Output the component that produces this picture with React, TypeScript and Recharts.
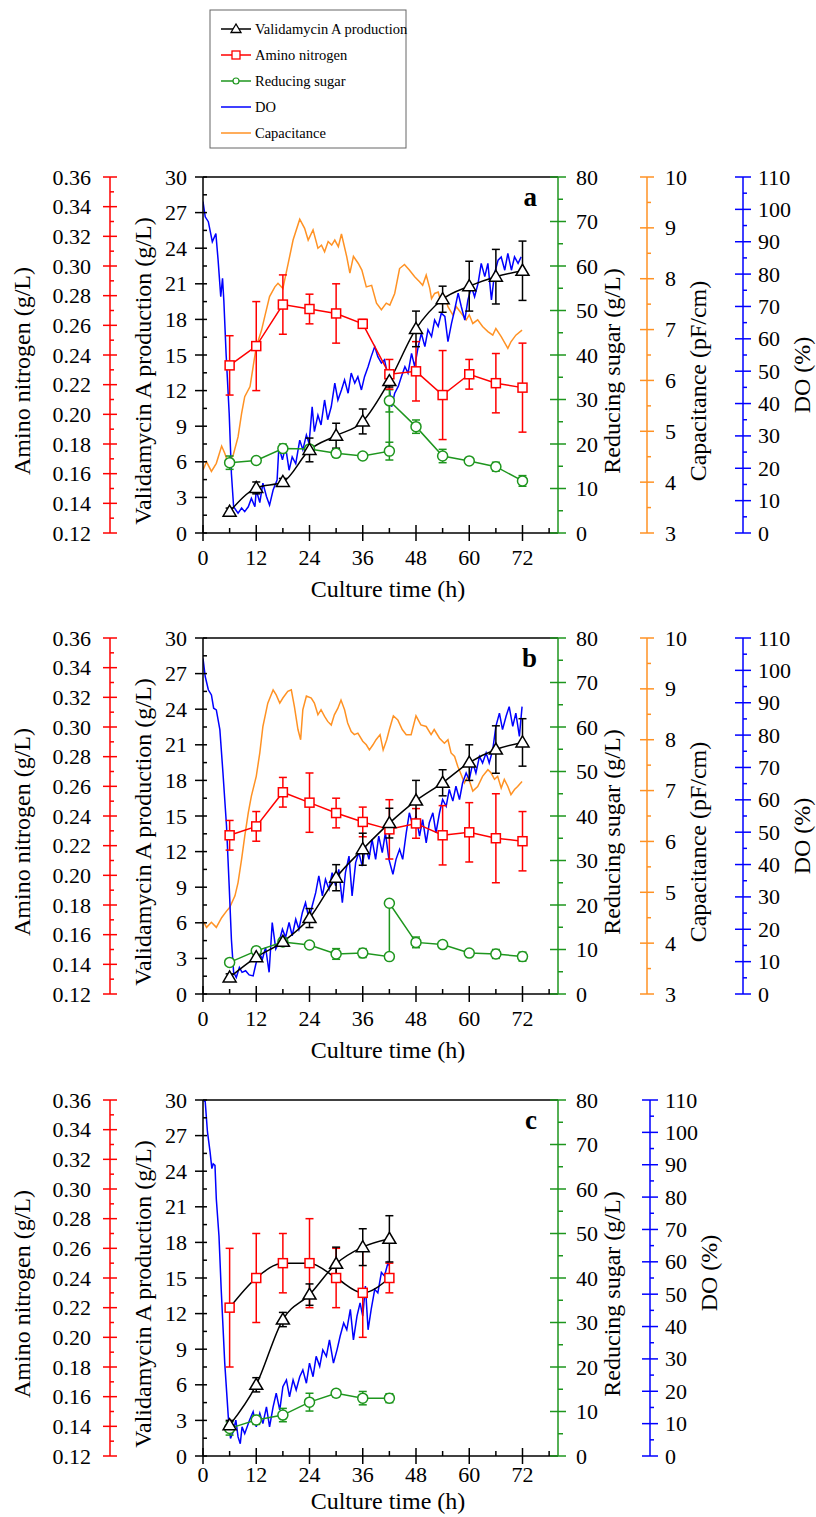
import React from 'react';
import { ComposedChart, Line, XAxis, YAxis, ErrorBar, ReferenceLine } from 'recharts';

const FONT = '"Liberation Serif", "Times New Roman", serif';
const BLACK = '#000000';
const RED = '#ff0000';
const GREEN = '#1e961e';
const ORANGE = '#ff9224';
const BLUE = '#0000ff';

// sampling times (h)
const sampleTimes = [6, 12, 18, 24, 30, 36, 42, 48, 54, 60, 66, 72];
const sampleTimesC = [6, 12, 18, 24, 30, 36, 42];
// sugar is fed at 42 h, so two readings there
const sugarTimes = [6, 12, 18, 24, 30, 36, 42, 42, 48, 54, 60, 66, 72];

// panel a
const vaA = [1.8, 3.8, 4.3, 7.0, 8.2, 9.4, 12.8, 17.2, 19.7, 20.8, 21.6, 22.1];
const vaErrA = [0.3, 0.5, 0.3, 1.0, 1.05, 1.05, 0.5, 1.5, 1.1, 2.1, 2.3, 2.5];
const anA = [0.233, 0.246, 0.274, 0.271, 0.268, 0.261, 0.227, 0.229, 0.213, 0.227, 0.221, 0.218];
const anErrA = [0.02, 0.03, 0.02, 0.01, 0.02, 0.003, 0.01, 0.02, 0.03, 0.01, 0.02, 0.03];
const rsA = [15.8, 16.3, 19.0, 18.9, 17.9, 17.3, 18.4, 29.7, 23.9, 17.3, 16.2, 14.9, 11.7];
const rsErrA = [1.5, 0.5, 1.0, 0.5, 0.8, 0.5, 2.0, 2.5, 1.5, 1.5, 0.5, 1.0, 1.2];
const capTimeA = [0, 0.8, 1.9, 3.0, 4.2, 4.9, 5.7, 6.8, 7.9, 8.7, 9.4, 10.6, 11.3, 12.0, 13.2, 13.9, 15.0, 16.2, 16.9, 18.0, 19.2, 20.3, 21.8, 22.9, 23.7, 24.8, 25.9, 26.7, 27.4, 28.2, 29.0, 29.7, 30.5, 31.2, 32.4, 33.1, 33.9, 35.0, 35.8, 36.8, 38.0, 39.1, 40.2, 41.3, 42.1, 43.2, 44.3, 45.4, 46.5, 47.7, 48.8, 49.5, 50.3, 51.1, 51.5, 52.2, 53.0, 53.7, 54.5, 55.2, 56.3, 57.1, 58.2, 59.3, 60.0, 60.8, 61.9, 63.0, 64.2, 65.3, 66.0, 67.2, 68.7, 69.4, 70.5, 71.9];
const capA = [4.24, 4.40, 4.21, 4.37, 4.71, 4.57, 4.37, 4.53, 4.89, 5.35, 5.68, 5.88, 6.27, 6.66, 6.99, 7.25, 7.65, 7.84, 7.91, 7.81, 8.30, 8.76, 9.17, 8.99, 8.76, 8.96, 8.60, 8.66, 8.53, 8.73, 8.66, 8.76, 8.63, 8.88, 8.43, 8.11, 8.44, 8.30, 8.17, 7.84, 7.87, 7.52, 7.39, 7.52, 7.48, 7.71, 8.20, 8.28, 8.17, 8.04, 7.94, 7.87, 8.07, 7.81, 7.61, 7.71, 7.74, 7.52, 7.65, 7.45, 7.29, 7.45, 7.32, 7.19, 7.29, 7.12, 7.19, 7.06, 6.96, 6.89, 7.02, 6.86, 6.63, 6.76, 6.89, 6.99];
const doTimeA = [0, 0.5, 1.2, 2.1, 2.9, 3.4, 4.0, 4.4, 4.7, 5.2, 5.9, 6.4, 6.9, 7.9, 8.7, 9.4, 10.2, 10.9, 11.7, 12.0, 12.8, 13.5, 14.3, 15.0, 15.8, 16.7, 17.1, 17.9, 18.6, 19.4, 20.1, 20.9, 21.8, 22.5, 23.3, 23.9, 24.6, 25.1, 25.9, 26.6, 27.4, 28.1, 28.9, 29.7, 30.4, 31.2, 31.9, 32.7, 33.4, 34.2, 34.9, 35.7, 36.4, 37.2, 37.9, 38.7, 39.4, 40.2, 40.9, 41.7, 42.5, 43.2, 44.0, 44.7, 45.5, 46.2, 47.0, 47.7, 48.5, 49.2, 50.0, 50.7, 51.5, 52.2, 53.0, 53.7, 54.5, 55.2, 56.0, 56.7, 57.5, 58.2, 59.0, 59.7, 60.5, 61.2, 62.0, 62.7, 63.5, 64.2, 65.0, 65.7, 66.5, 67.2, 68.0, 68.7, 69.5, 70.2, 71.0, 71.7];
const doA = [102.4, 97.7, 96.2, 90.0, 92.5, 84.4, 73.0, 78.7, 71.7, 55.5, 37.0, 18.4, 8.1, 6.1, 7.7, 6.6, 8.1, 10.7, 8.1, 13.3, 9.4, 15.4, 11.3, 8.6, 13.3, 16.4, 26.7, 22.6, 26.7, 19.4, 23.5, 21.4, 28.7, 25.7, 30.3, 27.7, 39.0, 31.3, 36.4, 33.4, 41.1, 35.0, 39.0, 46.3, 41.1, 44.2, 47.3, 43.2, 49.4, 46.3, 48.3, 44.2, 48.3, 51.4, 54.5, 57.6, 54.5, 52.5, 53.5, 48.3, 39.0, 43.2, 45.3, 48.3, 51.4, 49.4, 55.5, 51.4, 57.6, 61.7, 57.6, 62.8, 60.7, 65.8, 63.8, 67.9, 66.9, 59.1, 64.8, 68.9, 74.1, 70.0, 65.8, 72.0, 76.1, 73.0, 77.2, 83.3, 79.2, 83.3, 72.0, 80.2, 84.3, 85.3, 81.2, 86.4, 81.2, 85.3, 83.3, 85.3];

// panel b
const vaB = [1.4, 3.1, 4.4, 6.4, 9.8, 12.2, 14.4, 16.3, 17.8, 19.5, 20.6, 21.2];
const vaErrB = [0.3, 0.3, 0.3, 0.8, 1.1, 1.35, 1.25, 1.7, 1.1, 1.5, 2.0, 2.0];
const anB = [0.227, 0.233, 0.256, 0.249, 0.242, 0.236, 0.231, 0.235, 0.227, 0.229, 0.225, 0.223];
const anErrB = [0.01, 0.01, 0.01, 0.02, 0.01, 0.01, 0.02, 0.01, 0.02, 0.02, 0.03, 0.02];
const rsB = [7.1, 9.7, 11.7, 11.0, 9.0, 9.2, 8.4, 20.4, 11.6, 11.1, 9.2, 9.0, 8.4];
const rsErrB = [0.5, 0.8, 0.5, 0.5, 1.2, 1.0, 0.5, 0.5, 1.2, 0.5, 0.5, 1.0, 1.0];
const capTimeB = [0, 0.8, 1.9, 3.0, 4.2, 5.3, 6.0, 7.2, 7.9, 8.7, 9.4, 10.2, 10.9, 12.0, 12.8, 13.5, 14.6, 15.8, 16.5, 17.3, 18.0, 19.1, 19.9, 20.6, 21.4, 22.0, 22.5, 23.3, 24.4, 25.1, 25.9, 26.6, 27.4, 28.1, 28.9, 29.6, 30.4, 31.1, 31.9, 32.6, 33.4, 34.1, 34.9, 36.0, 36.8, 37.5, 38.3, 39.0, 39.9, 40.6, 41.4, 42.0, 42.9, 43.9, 44.9, 45.8, 46.9, 48.0, 49.1, 50.3, 51.4, 52.1, 53.3, 54.4, 55.2, 55.9, 56.7, 57.4, 58.2, 58.9, 59.7, 60.8, 61.9, 63.0, 64.2, 64.9, 65.7, 66.4, 67.2, 67.9, 68.7, 69.4, 70.2, 70.9, 71.9];
const capB = [4.44, 4.31, 4.41, 4.31, 4.50, 4.63, 4.70, 4.93, 5.19, 5.65, 6.10, 6.56, 6.89, 7.28, 7.74, 8.26, 8.72, 8.98, 8.88, 8.72, 8.82, 8.95, 8.98, 8.65, 8.20, 8.00, 8.59, 8.86, 8.82, 8.72, 8.49, 8.59, 8.46, 8.36, 8.29, 8.49, 8.62, 8.78, 8.59, 8.33, 8.16, 8.10, 8.13, 7.97, 7.90, 7.80, 7.90, 8.00, 8.10, 7.80, 8.00, 8.20, 8.47, 8.39, 8.20, 8.10, 8.10, 8.47, 8.29, 8.26, 8.10, 8.20, 8.03, 7.93, 8.00, 7.74, 7.67, 7.48, 7.31, 7.15, 7.28, 6.99, 7.08, 7.28, 7.41, 7.35, 7.22, 7.28, 7.05, 7.22, 7.08, 6.92, 7.02, 7.08, 7.18];
const doTimeB = [0, 0.5, 1.2, 1.9, 2.4, 3.0, 3.8, 4.5, 5.3, 5.9, 6.4, 6.9, 7.5, 8.2, 8.8, 9.6, 10.4, 11.3, 11.9, 12.6, 13.4, 14.1, 14.9, 15.6, 16.4, 17.1, 17.9, 18.6, 19.4, 20.1, 20.9, 21.6, 22.4, 23.1, 23.9, 24.6, 25.4, 26.1, 26.9, 27.6, 28.4, 29.1, 29.9, 30.6, 31.4, 32.1, 32.9, 33.6, 34.4, 35.1, 35.9, 36.6, 37.4, 38.1, 38.9, 39.6, 40.4, 41.1, 41.9, 42.8, 43.5, 44.3, 45.0, 45.8, 46.5, 47.3, 48.0, 48.8, 49.5, 50.3, 51.0, 51.8, 52.5, 53.3, 54.0, 54.8, 55.5, 56.3, 57.0, 57.8, 58.5, 59.3, 60.0, 60.8, 61.5, 62.3, 63.0, 63.8, 64.5, 65.3, 66.0, 66.8, 67.5, 68.3, 69.0, 69.8, 70.5, 71.3, 71.9];
const doB = [103.7, 98.1, 94.0, 92.4, 88.3, 87.8, 81.7, 68.3, 51.9, 33.4, 16.9, 6.7, 5.1, 8.2, 6.7, 7.2, 5.9, 5.6, 9.2, 12.8, 10.8, 14.4, 6.7, 22.1, 13.9, 15.9, 20.0, 17.5, 22.1, 18.0, 23.1, 20.0, 25.2, 28.2, 23.1, 27.2, 31.3, 36.5, 30.3, 35.4, 32.4, 37.5, 33.4, 38.5, 28.2, 37.5, 42.6, 30.3, 40.6, 43.7, 39.5, 45.7, 41.6, 47.8, 41.6, 48.8, 43.7, 49.8, 41.6, 37.0, 41.6, 44.7, 41.6, 49.8, 56.0, 51.9, 55.0, 48.8, 53.9, 46.7, 52.9, 56.0, 49.8, 56.0, 60.1, 58.0, 63.2, 59.6, 64.2, 60.1, 65.2, 68.3, 66.2, 71.4, 68.3, 73.4, 71.4, 74.5, 71.4, 75.5, 82.7, 86.8, 81.7, 85.8, 88.8, 82.7, 86.8, 79.6, 88.8];

// panel c
const vaC = [2.6, 6.0, 11.5, 13.6, 16.2, 17.6, 18.3];
const vaErrC = [0.4, 0.6, 0.6, 0.9, 1.4, 1.55, 1.95];
const anC = [0.220, 0.240, 0.250, 0.250, 0.240, 0.230, 0.240];
const anErrC = [0.04, 0.03, 0.02, 0.03, 0.02, 0.03, 0.01];
const rsC = [6.2, 8.1, 9.2, 12.1, 14.1, 13.0, 13.0];
const rsErrC = [1.5, 1.0, 1.5, 2.0, 0.8, 1.5, 1.0];
const doTimeC = [0, 0.5, 1.0, 1.6, 2.0, 2.3, 2.7, 3.0, 3.6, 4.1, 4.9, 5.7, 6.2, 6.8, 7.4, 7.9, 8.4, 8.8, 9.4, 10.5, 11.3, 12.0, 12.8, 13.5, 14.3, 15.0, 15.8, 16.5, 17.3, 18.0, 18.8, 19.5, 20.3, 21.0, 21.8, 22.5, 23.3, 24.0, 24.8, 25.5, 26.3, 27.0, 27.8, 28.5, 29.4, 30.2, 30.9, 31.7, 32.4, 33.2, 33.9, 34.7, 35.4, 36.0, 36.6, 37.2, 37.9, 38.7, 39.4, 40.2, 40.9, 41.7, 42.0];
const doC = [110, 109.5, 100.2, 93.9, 88.8, 90.3, 89.8, 79.4, 68.0, 51.5, 28.7, 12.1, 5.4, 7.5, 11.1, 5.9, 3.8, 9.0, 6.9, 11.1, 13.7, 9.0, 13.2, 10.0, 15.2, 9.0, 15.2, 19.4, 14.2, 21.4, 23.5, 18.3, 23.5, 20.4, 24.5, 26.6, 22.5, 28.7, 24.5, 30.8, 27.7, 32.8, 30.8, 35.9, 28.7, 32.8, 37.0, 41.1, 39.0, 45.3, 35.9, 43.2, 47.3, 43.2, 52.5, 39.0, 45.3, 51.5, 50.4, 56.7, 55.6, 59.8, 58.7];

const range = (a: number, b: number, step: number) =>
  Array.from({ length: Math.round((b - a) / step) + 1 }, (_, i) => +(a + i * step).toFixed(3));

const timeTicks = range(0, 78, 6);
const vaTicks = range(0, 30, 1.5);
const anTicks = range(0.12, 0.36, 0.01);
const rsTicks = range(0, 80, 5);
const capTicks = range(3, 10, 0.5);
const doTicks = range(0, 110, 5);

const PLOT_TOP = 27;
const PLOT_BOTTOM = 383;

type TickOpts = {
  x: number; side: 'left' | 'right'; color: string; minor: number; every: number;
  digits: number; gap: number; majIn: number; majOut: number; minIn: number; minOut: number;
};

const yTick = (o: TickOpts) => (p: any) => {
  const v: number = p.payload.value;
  const y: number = p.y;
  const k = Math.round(v / o.minor);
  const major = k % Math.round(o.every / o.minor) === 0;
  const s = o.side === 'left' ? 1 : -1;
  const a = major ? o.majIn : o.minIn;
  const b = major ? o.majOut : o.minOut;
  return (
    <g key={`t-${v}`}>
      <line x1={o.x - s * b} x2={o.x + s * a} y1={y} y2={y} stroke={o.color} strokeWidth={1.5} />
      {major && (
        <text x={o.side === 'left' ? o.x - o.gap : o.x + o.gap} y={y + 7.5}
          textAnchor={o.side === 'left' ? 'end' : 'start'} fontSize={22} fontFamily={FONT} fill="#000">
          {v.toFixed(o.digits)}
        </text>
      )}
    </g>
  );
};

const xTick = (base: number) => (p: any) => {
  const v: number = p.payload.value;
  const x: number = p.x;
  const major = v % 12 === 0;
  return (
    <g key={`x-${v}`}>
      <line x1={x} x2={x} y1={PLOT_BOTTOM - (major ? 8 : 5)} y2={PLOT_BOTTOM + (major ? 8 : 0)} stroke="#000" strokeWidth={1.5} />
      {major && (
        <text x={x} y={base} textAnchor="middle" fontSize={22} fontFamily={FONT} fill="#000">{v}</text>
      )}
    </g>
  );
};

const vTitle = (text: string, x: number, y: number) => () => (
  <text x={x} y={y} transform={`rotate(-90 ${x} ${y})`} textAnchor="middle" fontSize={24} fontFamily={FONT} fill="#000">
    {text}
  </text>
);

const hTitle = (text: string, x: number, y: number) => () => (
  <text x={x} y={y} textAnchor="middle" fontSize={24} fontFamily={FONT} fill="#000">{text}</text>
);

const letterLabel = (letter: string) => () => (
  <text x={537} y={PLOT_TOP + 29} textAnchor="end" fontSize={27} fontWeight="bold" fontFamily={FONT} fill="#000">
    {letter}
  </text>
);

const triDot = (p: any) =>
  p.cx == null ? null : (
    <polygon key={`tri-${p.index}`}
      points={`${p.cx},${p.cy - 6.5} ${p.cx - 6.5},${p.cy + 4.5} ${p.cx + 6.5},${p.cy + 4.5}`}
      fill="#fff" stroke="#000" strokeWidth={1.5} />
  );

const squareDot = (p: any) =>
  p.cx == null ? null : (
    <rect key={`sq-${p.index}`} x={p.cx - 4.5} y={p.cy - 4.5} width={9} height={9} fill="#fff" stroke={RED} strokeWidth={1.5} />
  );

const circleDot = (p: any) =>
  p.cx == null ? null : (
    <circle key={`ci-${p.index}`} cx={p.cx} cy={p.cy} r={5} fill="#fff" stroke={GREEN} strokeWidth={1.5} />
  );

type PanelProps = {
  top: number; height: number; xAxisH: number; letter: string;
  times: number[]; va: number[]; vaErr: number[]; an: number[]; anErr: number[];
  rsTimes: number[]; rs: number[]; rsErr: number[];
  capTime?: number[]; cap?: number[]; doTime: number[]; dov: number[];
  anStroke: string; xTickBase: number; xTitleBase: number;
  greenW: number; doX: number; doTitleX: number; doTitleY: number;
};

// axis ids are ordered by name: y1/y2 stack outwards on the left, y3..y5 on the right
function Panel(p: PanelProps) {
  const vaData = p.times.map((t, i) => ({ t, v: p.va[i], e: p.vaErr[i] }));
  const anData = p.times.map((t, i) => ({ t, v: p.an[i], e: p.anErr[i] }));
  const rsData = p.rsTimes.map((t, i) => ({ t, v: p.rs[i], e: p.rsErr[i] }));
  const doData = p.doTime.map((t, i) => ({ t, v: p.dov[i] }));
  const capData = p.capTime && p.cap ? p.capTime.map((t, i) => ({ t, v: p.cap![i] })) : null;
  const rightMargin = 816 - 558 - p.greenW - (capData ? 96 : 0) - 73;

  return (
    <div style={{ position: 'absolute', left: 0, top: p.top }}>
      <ComposedChart width={816} height={p.height} margin={{ top: PLOT_TOP, left: 10, right: rightMargin, bottom: 0 }}>
        <XAxis dataKey="t" type="number" domain={[0, 80]} ticks={timeTicks} interval={0} allowDataOverflow
          height={p.xAxisH} tickLine={false} axisLine={{ stroke: '#000', strokeWidth: 1.5 }}
          tick={xTick(p.xTickBase)} label={hTitle('Culture time (h)', 388, p.xTitleBase)} />
        <YAxis yAxisId="y1va" orientation="left" width={93} type="number" domain={[0, 30]} ticks={vaTicks}
          interval={0} allowDataOverflow tickLine={false} axisLine={{ stroke: '#000', strokeWidth: 1.5 }}
          tick={yTick({ x: 203, side: 'left', color: '#000', minor: 1.5, every: 3, digits: 0, gap: 16, majIn: 4, majOut: 8, minIn: 4, minOut: 0 })}
          label={vTitle('Validamycin A production (g/L)', 151, 221)} />
        <YAxis yAxisId="y2an" orientation="left" width={100} type="number" domain={[0.12, 0.36]} ticks={anTicks}
          interval={0} allowDataOverflow tickLine={false} axisLine={{ stroke: RED, strokeWidth: 1.5 }}
          tick={yTick({ x: 110, side: 'left', color: RED, minor: 0.01, every: 0.02, digits: 2, gap: 19, majIn: 7, majOut: 7, minIn: 4, minOut: 0 })}
          label={vTitle('Amino nitrogen (g/L)', 30, 221)} />
        <YAxis yAxisId="y3rs" orientation="right" width={p.greenW} type="number" domain={[0, 80]} ticks={rsTicks}
          interval={0} allowDataOverflow tickLine={false} axisLine={{ stroke: GREEN, strokeWidth: 1.5 }}
          tick={yTick({ x: 558, side: 'right', color: GREEN, minor: 5, every: 10, digits: 0, gap: 18, majIn: 8, majOut: 8, minIn: 0, minOut: 5 })}
          label={vTitle('Reducing sugar (g/L)', 620, 221)} />
        {capData && (
          <YAxis yAxisId="y4cap" orientation="right" width={96} type="number" domain={[3, 10]} ticks={capTicks}
            interval={0} allowDataOverflow tickLine={false} axisLine={{ stroke: ORANGE, strokeWidth: 1.5 }}
            tick={yTick({ x: 647, side: 'right', color: ORANGE, minor: 0.5, every: 1, digits: 0, gap: 18, majIn: 7, majOut: 7, minIn: 0, minOut: 4 })}
            label={vTitle('Capacitance (pF/cm)', 706, 231)} />
        )}
        <YAxis yAxisId="y5do" orientation="right" width={73} type="number" domain={[0, 110]} ticks={doTicks}
          interval={0} allowDataOverflow tickLine={false} axisLine={{ stroke: BLUE, strokeWidth: 1.5 }}
          tick={yTick({ x: p.doX, side: 'right', color: BLUE, minor: 5, every: 10, digits: 0, gap: 15, majIn: 8, majOut: 8, minIn: 0, minOut: 4 })}
          label={vTitle('DO (%)', p.doTitleX, p.doTitleY)} />

        <ReferenceLine yAxisId="y1va" y={30} stroke="#000" strokeWidth={1.5} label={letterLabel(p.letter)} />

        {capData && (
          <Line yAxisId="y4cap" data={capData} dataKey="v" stroke={ORANGE} strokeWidth={1.5} dot={false} isAnimationActive={false} />
        )}
        <Line yAxisId="y5do" data={doData} dataKey="v" stroke={BLUE} strokeWidth={1.5} dot={false} isAnimationActive={false} />
        <Line yAxisId="y3rs" data={rsData} dataKey="v" stroke={GREEN} strokeWidth={1.5} dot={circleDot} isAnimationActive={false}>
          <ErrorBar dataKey="e" width={4} stroke={GREEN} strokeWidth={1.5} direction="y" isAnimationActive={false} />
        </Line>
        <Line yAxisId="y2an" data={anData} dataKey="v" type={p.anStroke === '#000' ? 'monotone' : 'linear'} stroke={p.anStroke}
          strokeWidth={1.5} dot={squareDot} isAnimationActive={false}>
          <ErrorBar dataKey="e" width={4} stroke={RED} strokeWidth={1.5} direction="y" isAnimationActive={false} />
        </Line>
        <Line yAxisId="y1va" data={vaData} dataKey="v" type="monotone" stroke="#000" strokeWidth={1.5} dot={triDot} isAnimationActive={false}>
          <ErrorBar dataKey="e" width={4} stroke="#000" strokeWidth={1.5} direction="y" isAnimationActive={false} />
        </Line>
      </ComposedChart>
    </div>
  );
}

const legendItems = [
  { name: 'Validamycin A production', color: BLACK, marker: 'tri' },
  { name: 'Amino nitrogen', color: RED, marker: 'sq' },
  { name: 'Reducing sugar', color: GREEN, marker: 'ci' },
  { name: 'DO', color: BLUE, marker: '' },
  { name: 'Capacitance', color: ORANGE, marker: '' },
];

function LegendBox() {
  return (
    <svg width={816} height={150} style={{ position: 'absolute', left: 0, top: 0 }}>
      <rect x={210} y={10} width={196} height={138} fill="#fff" stroke="#666" strokeWidth={1} />
      {legendItems.map((it, i) => {
        const y = 29 + i * 26;
        return (
          <g key={it.name}>
            <line x1={221} x2={251} y1={y} y2={y} stroke={it.color} strokeWidth={1.5} />
            {it.marker === 'tri' && (
              <polygon points={`236,${y - 5} 231,${y + 3.5} 241,${y + 3.5}`} fill="#fff" stroke={it.color} strokeWidth={1.3} />
            )}
            {it.marker === 'sq' && <rect x={232} y={y - 4} width={8} height={8} fill="#fff" stroke={it.color} strokeWidth={1.3} />}
            {it.marker === 'ci' && <circle cx={236} cy={y} r={3} fill="#fff" stroke={it.color} strokeWidth={1.2} />}
            <text x={255} y={y + 5} fontSize={14.5} fontFamily={FONT} fill="#000">{it.name}</text>
          </g>
        );
      })}
    </svg>
  );
}

export default function App() {
  return (
    <div style={{ position: 'absolute', left: 0, top: 0, width: 816, height: 1517, background: '#fff', overflow: 'hidden' }}>
      <LegendBox />
      <Panel top={150} height={470} xAxisH={87} letter="a"
        times={sampleTimes} va={vaA} vaErr={vaErrA} an={anA} anErr={anErrA}
        rsTimes={sugarTimes} rs={rsA} rsErr={rsErrA} capTime={capTimeA} cap={capA}
        doTime={doTimeA} dov={doA} anStroke={RED} xTickBase={415} xTitleBase={447}
        greenW={89} doX={743} doTitleX={810} doTitleY={225} />
      <Panel top={611} height={470} xAxisH={87} letter="b"
        times={sampleTimes} va={vaB} vaErr={vaErrB} an={anB} anErr={anErrB}
        rsTimes={sugarTimes} rs={rsB} rsErr={rsErrB} capTime={capTimeB} cap={capB}
        doTime={doTimeB} dov={doB} anStroke={RED} xTickBase={415} xTitleBase={447}
        greenW={89} doX={743} doTitleX={810} doTitleY={225} />
      <Panel top={1073} height={444} xAxisH={61} letter="c"
        times={sampleTimesC} va={vaC} vaErr={vaErrC} an={anC} anErr={anErrC}
        rsTimes={sampleTimesC} rs={rsC} rsErr={rsErrC}
        doTime={doTimeC} dov={doC} anStroke="#000" xTickBase={409} xTitleBase={436}
        greenW={92} doX={650} doTitleX={717} doTitleY={200} />
    </div>
  );
}
